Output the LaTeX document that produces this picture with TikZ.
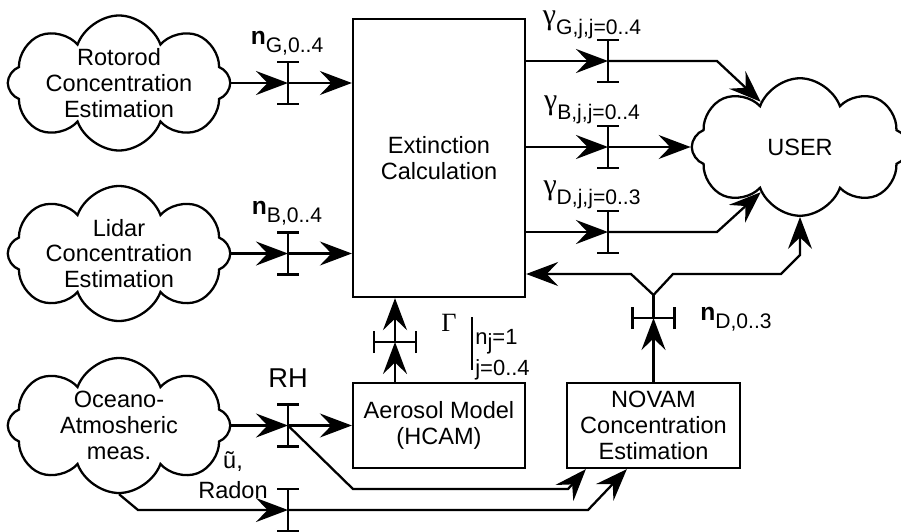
\documentclass[tikz,border=0pt]{standalone}
\usepackage{fontspec}
\setmainfont{Liberation Sans}
\newfontfamily\grkfont{Liberation Serif}
\usetikzlibrary{arrows.meta,shapes.symbols,calc}
\newcommand{\bodyfont}{\fontsize{13.4}{14.6}\selectfont}
\newcommand{\subfont}{\fontsize{12}{12}\selectfont}
\newcommand{\conc}[1]{{\fontsize{14}{14}\selectfont\bfseries n}\raisebox{-4.5pt}{\subfont #1}}
\newcommand{\ext}[1]{{\fontsize{17}{17}\selectfont\grkfont γ}\raisebox{-6pt}{\subfont #1}}
\tikzset{
  box/.style={draw=black, line width=1.3pt, align=center, fill=white, font=\bodyfont,
    inner sep=2pt},
  cloudbox/.style={cloud, cloud puffs=8, cloud puff arc=140, aspect=1.7, draw=black,
    shape border rotate=22.5, line width=1.3pt, inner sep=0pt,
    minimum width=4.45cm, minimum height=2.7cm},
  lbl/.style={inner sep=0pt, font=\bodyfont, align=center},
  tickline/.style={line width=1.3pt},
  arr/.style={-{Stealth[length=6.4mm,width=4.8mm,inset=2.3mm]}, line width=1.3pt},
  line/.style={line width=1.3pt},
  meas/.pic={\draw[tickline] (0,-0.42) -- (0,0.42) (-0.22,0.42) -- (0.22,0.42)
    (-0.22,-0.42) -- (0.22,-0.42);}
}
\begin{document}
\begin{tikzpicture}
  \useasboundingbox (0,0) rectangle (18.02,-10.62);

  \node[cloudbox, label={[lbl]center:Rotorod\\Concentration\\Estimation}] (rot) at (2.38,-1.66) {};
  \node[cloudbox, label={[lbl]center:Lidar\\Concentration\\Estimation}] (lid) at (2.38,-5.07) {};
  \node[cloudbox, label={[lbl]center:Oceano-\\Atmosheric\\meas.}] (oce) at (2.38,-8.51) {};
  \node[cloudbox, minimum width=4.33cm, minimum height=2.75cm,
    label={[lbl]center:USER}] (user) at (16.0,-2.94) {};

  \node[box, minimum width=3.44cm, minimum height=5.56cm] (ext) at (8.78,-3.16) {Extinction\\Calculation};
  \node[box, minimum width=3.44cm, minimum height=1.7cm] (aer) at (8.78,-8.51) {Aerosol Model\\(HCAM)};
  \node[box, minimum width=3.46cm, minimum height=1.7cm] (nov) at (13.07,-8.51) {NOVAM\\Concentration\\Estimation};

  \coordinate (cG) at (5.76,-1.66);
  \coordinate (cB) at (5.76,-5.07);
  \coordinate (cR) at (5.76,-8.51);
  \coordinate (cU) at (5.76,-10.2);
  \coordinate (gG) at (12.16,-1.22);
  \coordinate (gB) at (12.16,-2.94);
  \coordinate (gD) at (12.16,-4.64);
  \coordinate (cA) at (7.9,-6.84);
  \coordinate (cN) at (13.07,-6.36);
  \coordinate (fork) at (13.07,-5.9);

  \foreach \c in {cG,cB,cR,cU,gG,gB,gD}
    \pic at (\c) {meas};
  \foreach \c in {cA,cN}
    \pic[rotate=90] at (\c) {meas};

  % inputs of the extinction calculation
  \draw[arr] (rot.east) -- (cG);
  \draw[arr] (cG) -- (ext.west |- cG);
  \draw[arr] (lid.east) -- (cB);
  \draw[arr] (cB) -- (ext.west |- cB);
  \draw[arr] (oce.east) -- (cR);
  \draw[arr] (cR) -- (aer.west);
  \draw[arr] (aer.north -| cA) -- (cA);
  \draw[arr] (cA) -- (ext.south -| cA);

  % outputs to the user
  \foreach \c in {gG,gB,gD}
    \draw[arr] (ext.east |- \c) -- (\c);
  \draw[arr] (gG) -- (14.34,-1.22) -- (user.131);
  \draw[arr] (gB) -- (user.west);
  \draw[arr] (gD) -- (14.34,-4.64) -- (user.229);

  % NOVAM
  \draw[arr] (cR) -- (7.06,-9.78) -- (11.36,-9.78) -- ([xshift=0.4cm]nov.south west);
  \draw[arr] (oce.south) -- (2.76,-10.2) -- (cU);
  \draw[arr] (cU) -- (11.76,-10.2) -- ([xshift=1.22cm]nov.south west);
  \draw[arr] (nov.north) -- (cN);
  \draw[line] (cN) -- (fork);
  \draw[arr] (fork) -- (12.62,-5.48) -- (ext.east |- 0,-5.48);
  \draw[arr] (fork) -- (13.46,-5.48) -- (15.62,-5.48) -- (16.0,-5.1) -- (user.south);

  % labels
  \node[lbl] (lG) at (5.74,-0.86) {\conc{G,0..4}};
  \node[lbl] (lB) at (5.74,-4.26) {\conc{B,0..4}};
  \node[lbl] (lD) at (14.72,-6.38) {\conc{D,0..3}};
  \node[lbl, font=\fontsize{15.5}{15.5}\selectfont] (lRH) at (5.76,-7.56) {RH};
  \node[lbl, font=\fontsize{13.4}{17}\selectfont] (lu) at (4.66,-9.5) {ũ,\\Radon};
  \node[lbl] (eG) at (11.84,-0.5) {\ext{G,j,j=0..4}};
  \node[lbl] (eB) at (11.84,-2.2) {\ext{B,j,j=0..4}};
  \node[lbl] (eD) at (11.84,-3.9) {\ext{D,j,j=0..3}};
  \node[lbl, font=\fontsize{15}{15}\selectfont\grkfont] (gam) at (8.98,-6.45) {Γ};
  \draw[line] (9.44,-6.34) -- (9.44,-7.4);
  \node[lbl, anchor=west, font=\fontsize{12.5}{12.5}\selectfont] (nj) at (9.5,-6.84) {n\raisebox{-3pt}{j}=1};
  \node[lbl, anchor=west, font=\fontsize{12.5}{12.5}\selectfont] (jr) at (9.5,-7.4) {j=0..4};
\end{tikzpicture}
\end{document}
